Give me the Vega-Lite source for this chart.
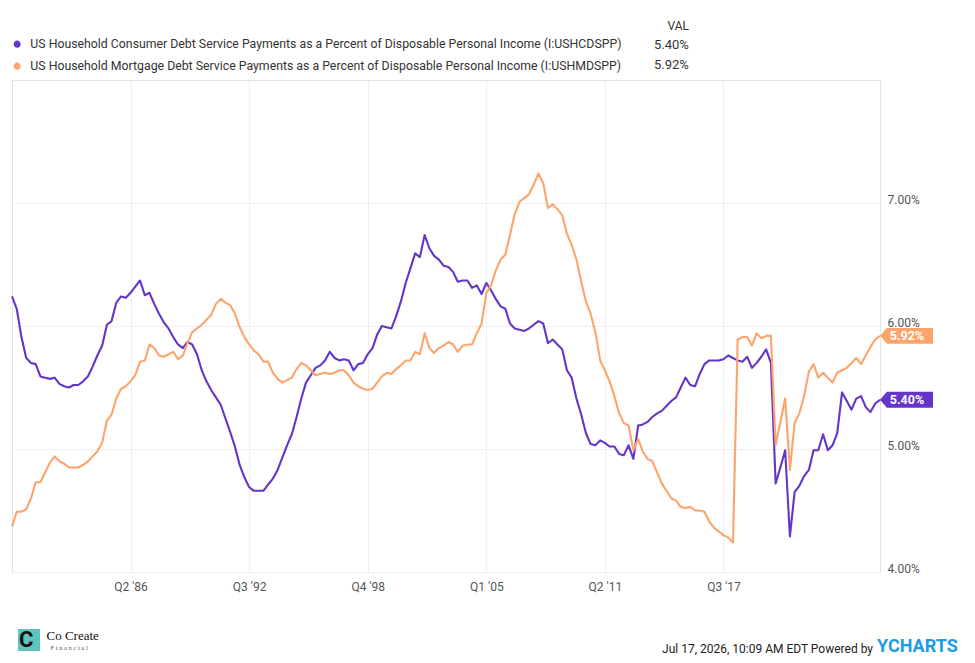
{
  "$schema": "https://vega.github.io/schema/vega-lite/v6.json",
  "width": 868,
  "height": 492,
  "autosize": {"type": "none"},
  "padding": {"left": 12, "top": 80, "right": 95, "bottom": 91},
  "background": "white",
  "config": {
    "font": "Roboto",
    "view": {"stroke": "#e3e3e3", "strokeWidth": 1}
  },
  "title": {
    "text": "Jul 17, 2026, 10:09 AM EDT Powered by",
    "orient": "bottom",
    "anchor": "end",
    "frame": "group",
    "offset": -12,
    "dx": -7,
    "fontSize": 12,
    "fontWeight": "normal",
    "color": "#222222"
  },
  "data": {
    "format": {"parse": {"d": "utc:'%Y-%m-%d'"}},
    "values": [
      {"d":"1980-01-01","c":6.24,"m":4.37},{"d":"1980-04-01","c":6.14,"m":4.49},{"d":"1980-07-01","c":5.91,"m":4.49},{"d":"1980-10-01","c":5.74,"m":4.51},
      {"d":"1981-01-01","c":5.70,"m":4.60},{"d":"1981-04-01","c":5.69,"m":4.73},{"d":"1981-07-01","c":5.59,"m":4.73},{"d":"1981-10-01","c":5.58,"m":4.81},
      {"d":"1982-01-01","c":5.57,"m":4.89},{"d":"1982-04-01","c":5.58,"m":4.94},{"d":"1982-07-01","c":5.53,"m":4.90},{"d":"1982-10-01","c":5.51,"m":4.88},
      {"d":"1983-01-01","c":5.50,"m":4.85},{"d":"1983-04-01","c":5.52,"m":4.85},{"d":"1983-07-01","c":5.52,"m":4.85},{"d":"1983-10-01","c":5.55,"m":4.87},
      {"d":"1984-01-01","c":5.59,"m":4.90},{"d":"1984-04-01","c":5.67,"m":4.94},{"d":"1984-07-01","c":5.76,"m":4.98},{"d":"1984-10-01","c":5.84,"m":5.05},
      {"d":"1985-01-01","c":6.01,"m":5.23},{"d":"1985-04-01","c":6.04,"m":5.28},{"d":"1985-07-01","c":6.19,"m":5.41},{"d":"1985-10-01","c":6.24,"m":5.49},
      {"d":"1986-01-01","c":6.23,"m":5.51},{"d":"1986-04-01","c":6.27,"m":5.55},{"d":"1986-07-01","c":6.32,"m":5.60},{"d":"1986-10-01","c":6.37,"m":5.71},
      {"d":"1987-01-01","c":6.25,"m":5.72},{"d":"1987-04-01","c":6.27,"m":5.85},{"d":"1987-07-01","c":6.18,"m":5.82},{"d":"1987-10-01","c":6.10,"m":5.76},
      {"d":"1988-01-01","c":6.03,"m":5.75},{"d":"1988-04-01","c":5.98,"m":5.77},{"d":"1988-07-01","c":5.91,"m":5.79},{"d":"1988-10-01","c":5.85,"m":5.73},
      {"d":"1989-01-01","c":5.82,"m":5.76},{"d":"1989-04-01","c":5.87,"m":5.86},{"d":"1989-07-01","c":5.85,"m":5.95},{"d":"1989-10-01","c":5.77,"m":5.98},
      {"d":"1990-01-01","c":5.64,"m":6.01},{"d":"1990-04-01","c":5.55,"m":6.05},{"d":"1990-07-01","c":5.48,"m":6.09},{"d":"1990-10-01","c":5.42,"m":6.18},
      {"d":"1991-01-01","c":5.36,"m":6.22},{"d":"1991-04-01","c":5.25,"m":6.19},{"d":"1991-07-01","c":5.14,"m":6.17},{"d":"1991-10-01","c":5.02,"m":6.10},
      {"d":"1992-01-01","c":4.87,"m":5.99},{"d":"1992-04-01","c":4.77,"m":5.91},{"d":"1992-07-01","c":4.69,"m":5.85},{"d":"1992-10-01","c":4.66,"m":5.80},
      {"d":"1993-01-01","c":4.66,"m":5.77},{"d":"1993-04-01","c":4.66,"m":5.71},{"d":"1993-07-01","c":4.71,"m":5.71},{"d":"1993-10-01","c":4.76,"m":5.62},
      {"d":"1994-01-01","c":4.83,"m":5.57},{"d":"1994-04-01","c":4.93,"m":5.54},{"d":"1994-07-01","c":5.03,"m":5.56},{"d":"1994-10-01","c":5.12,"m":5.58},
      {"d":"1995-01-01","c":5.26,"m":5.65},{"d":"1995-04-01","c":5.41,"m":5.70},{"d":"1995-07-01","c":5.54,"m":5.68},{"d":"1995-10-01","c":5.60,"m":5.64},
      {"d":"1996-01-01","c":5.66,"m":5.60},{"d":"1996-04-01","c":5.68,"m":5.61},{"d":"1996-07-01","c":5.72,"m":5.62},{"d":"1996-10-01","c":5.79,"m":5.61},
      {"d":"1997-01-01","c":5.74,"m":5.62},{"d":"1997-04-01","c":5.72,"m":5.64},{"d":"1997-07-01","c":5.73,"m":5.64},{"d":"1997-10-01","c":5.72,"m":5.60},
      {"d":"1998-01-01","c":5.64,"m":5.54},{"d":"1998-04-01","c":5.69,"m":5.51},{"d":"1998-07-01","c":5.70,"m":5.49},{"d":"1998-10-01","c":5.77,"m":5.48},
      {"d":"1999-01-01","c":5.82,"m":5.49},{"d":"1999-04-01","c":5.93,"m":5.54},{"d":"1999-07-01","c":6.00,"m":5.59},{"d":"1999-10-01","c":5.99,"m":5.62},
      {"d":"2000-01-01","c":5.98,"m":5.61},{"d":"2000-04-01","c":6.08,"m":5.65},{"d":"2000-07-01","c":6.20,"m":5.68},{"d":"2000-10-01","c":6.35,"m":5.72},
      {"d":"2001-01-01","c":6.47,"m":5.72},{"d":"2001-04-01","c":6.59,"m":5.79},{"d":"2001-07-01","c":6.56,"m":5.77},{"d":"2001-10-01","c":6.74,"m":5.94},
      {"d":"2002-01-01","c":6.63,"m":5.82},{"d":"2002-04-01","c":6.57,"m":5.78},{"d":"2002-07-01","c":6.54,"m":5.82},{"d":"2002-10-01","c":6.49,"m":5.84},
      {"d":"2003-01-01","c":6.48,"m":5.87},{"d":"2003-04-01","c":6.44,"m":5.85},{"d":"2003-07-01","c":6.36,"m":5.79},{"d":"2003-10-01","c":6.37,"m":5.84},
      {"d":"2004-01-01","c":6.37,"m":5.85},{"d":"2004-04-01","c":6.31,"m":5.85},{"d":"2004-07-01","c":6.33,"m":5.94},{"d":"2004-10-01","c":6.26,"m":6.02},
      {"d":"2005-01-01","c":6.35,"m":6.27},{"d":"2005-04-01","c":6.29,"m":6.33},{"d":"2005-07-01","c":6.22,"m":6.45},{"d":"2005-10-01","c":6.16,"m":6.54},
      {"d":"2006-01-01","c":6.14,"m":6.58},{"d":"2006-04-01","c":6.02,"m":6.74},{"d":"2006-07-01","c":5.98,"m":6.91},{"d":"2006-10-01","c":5.97,"m":7.01},
      {"d":"2007-01-01","c":5.96,"m":7.04},{"d":"2007-04-01","c":5.98,"m":7.07},{"d":"2007-07-01","c":6.01,"m":7.15},{"d":"2007-10-01","c":6.04,"m":7.24},
      {"d":"2008-01-01","c":6.02,"m":7.16},{"d":"2008-04-01","c":5.86,"m":6.96},{"d":"2008-07-01","c":5.89,"m":6.99},{"d":"2008-10-01","c":5.85,"m":6.95},
      {"d":"2009-01-01","c":5.81,"m":6.90},{"d":"2009-04-01","c":5.64,"m":6.75},{"d":"2009-07-01","c":5.58,"m":6.66},{"d":"2009-10-01","c":5.41,"m":6.54},
      {"d":"2010-01-01","c":5.28,"m":6.36},{"d":"2010-04-01","c":5.13,"m":6.20},{"d":"2010-07-01","c":5.04,"m":6.10},{"d":"2010-10-01","c":5.03,"m":5.95},
      {"d":"2011-01-01","c":5.07,"m":5.72},{"d":"2011-04-01","c":5.05,"m":5.64},{"d":"2011-07-01","c":5.02,"m":5.55},{"d":"2011-10-01","c":5.02,"m":5.43},
      {"d":"2012-01-01","c":4.96,"m":5.29},{"d":"2012-04-01","c":4.95,"m":5.21},{"d":"2012-07-01","c":5.03,"m":5.19},{"d":"2012-10-01","c":4.92,"m":4.99},
      {"d":"2013-01-01","c":5.19,"m":5.08},{"d":"2013-04-01","c":5.20,"m":4.98},{"d":"2013-07-01","c":5.22,"m":4.92},{"d":"2013-10-01","c":5.26,"m":4.90},
      {"d":"2014-01-01","c":5.29,"m":4.81},{"d":"2014-04-01","c":5.31,"m":4.72},{"d":"2014-07-01","c":5.35,"m":4.66},{"d":"2014-10-01","c":5.39,"m":4.60},
      {"d":"2015-01-01","c":5.42,"m":4.58},{"d":"2015-04-01","c":5.50,"m":4.53},{"d":"2015-07-01","c":5.58,"m":4.52},{"d":"2015-10-01","c":5.52,"m":4.53},
      {"d":"2016-01-01","c":5.51,"m":4.50},{"d":"2016-04-01","c":5.61,"m":4.50},{"d":"2016-07-01","c":5.69,"m":4.49},{"d":"2016-10-01","c":5.72,"m":4.41},
      {"d":"2017-01-01","c":5.72,"m":4.36},{"d":"2017-04-01","c":5.72,"m":4.33},{"d":"2017-07-01","c":5.73,"m":4.30},{"d":"2017-10-01","c":5.76,"m":4.28},
      {"d":"2018-01-01","c":5.74,"m":4.24},{"d":"2018-04-01","c":5.72,"m":5.89},{"d":"2018-07-01","c":5.71,"m":5.91},{"d":"2018-10-01","c":5.75,"m":5.91},
      {"d":"2019-01-01","c":5.66,"m":5.84},{"d":"2019-04-01","c":5.70,"m":5.94},{"d":"2019-07-01","c":5.75,"m":5.90},{"d":"2019-10-01","c":5.81,"m":5.92},
      {"d":"2020-01-01","c":5.70,"m":5.92},{"d":"2020-04-01","c":4.72,"m":5.03},{"d":"2020-07-01","c":4.85,"m":5.22},{"d":"2020-10-01","c":4.99,"m":5.41},
      {"d":"2021-01-01","c":4.29,"m":4.83},{"d":"2021-04-01","c":4.65,"m":5.21},{"d":"2021-07-01","c":4.70,"m":5.29},{"d":"2021-10-01","c":4.78,"m":5.43},
      {"d":"2022-01-01","c":4.83,"m":5.63},{"d":"2022-04-01","c":4.99,"m":5.69},{"d":"2022-07-01","c":4.99,"m":5.58},{"d":"2022-10-01","c":5.12,"m":5.62},
      {"d":"2023-01-01","c":4.99,"m":5.58},{"d":"2023-04-01","c":5.03,"m":5.54},{"d":"2023-07-01","c":5.13,"m":5.62},{"d":"2023-10-01","c":5.46,"m":5.64},
      {"d":"2024-01-01","c":5.39,"m":5.66},{"d":"2024-04-01","c":5.32,"m":5.70},{"d":"2024-07-01","c":5.41,"m":5.74},{"d":"2024-10-01","c":5.43,"m":5.69},
      {"d":"2025-01-01","c":5.34,"m":5.76},{"d":"2025-04-01","c":5.30,"m":5.83},{"d":"2025-07-01","c":5.37,"m":5.89},{"d":"2025-10-01","c":5.40,"m":5.92}
    ]
  },
  "transform": [{"fold": ["c", "m"], "as": ["s", "v"]}],
  "encoding": {
    "x": {
      "field": "d",
      "type": "temporal",
      "scale": {
        "type": "utc",
        "nice": false,
        "domain": [
          {"year": 1980, "month": 1, "date": 1, "utc": true},
          {"year": 2025, "month": 10, "date": 1, "utc": true}
        ]
      },
      "axis": {
        "values": [
          {"year": 1986, "month": 4, "date": 1, "utc": true},
          {"year": 1992, "month": 7, "date": 1, "utc": true},
          {"year": 1998, "month": 10, "date": 1, "utc": true},
          {"year": 2005, "month": 1, "date": 1, "utc": true},
          {"year": 2011, "month": 4, "date": 1, "utc": true},
          {"year": 2017, "month": 7, "date": 1, "utc": true}
        ],
        "labelExpr": "'Q' + utcquarter(datum.value) + \" '\" + utcFormat(datum.value, '%y')",
        "domain": false,
        "ticks": false,
        "grid": true,
        "gridColor": "#efefef",
        "labelColor": "#555555",
        "labelFontSize": 12,
        "labelPadding": 9,
        "title": "Co Create",
        "titleFont": "Liberation Serif",
        "titleFontSize": 13,
        "titleFontWeight": "normal",
        "titleColor": "#111111",
        "titleAnchor": "start",
        "titleAlign": "left",
        "titleBaseline": "top",
        "titleX": 34,
        "titleY": 57
      }
    },
    "y": {
      "field": "v",
      "type": "quantitative",
      "scale": {"domain": [4, 8], "nice": false, "zero": false},
      "axis": {
        "orient": "right",
        "values": [4, 5, 6, 7],
        "labelExpr": "format(datum.value, '.2f') + '%'",
        "labelBaseline": "alphabetic",
        "labelAlign": "left",
        "labelPadding": 7,
        "labelColor": "#555555",
        "labelFontSize": 12,
        "domain": false,
        "ticks": false,
        "grid": true,
        "gridColor": "#efefef",
        "title": "F i n a n c i a l",
        "titleFont": "Liberation Serif",
        "titleFontSize": 6.5,
        "titleFontWeight": "normal",
        "titleColor": "#555555",
        "titleAngle": 0,
        "titleAlign": "left",
        "titleBaseline": "top",
        "titleX": -830,
        "titleY": 564
      }
    },
    "color": {
      "field": "s",
      "type": "nominal",
      "scale": {"domain": ["c", "m"], "range": ["#6335c8", "#fda46c"]},
      "legend": {
        "orient": "none",
        "legendX": -1,
        "legendY": -42,
        "title": null,
        "direction": "vertical",
        "labelExpr": "datum.value == 'c' ? 'US Household Consumer Debt Service Payments as a Percent of Disposable Personal Income (I:USHCDSPP)' : 'US Household Mortgage Debt Service Payments as a Percent of Disposable Personal Income (I:USHMDSPP)'",
        "labelFontSize": 12.3,
        "labelColor": "#333333",
        "labelLimit": 1000,
        "labelOffset": 7,
        "rowPadding": 3,
        "symbolType": "circle",
        "symbolSize": 12,
        "symbolStrokeWidth": 3.6
      }
    }
  },
  "layer": [
    {
      "mark": {"type": "line", "strokeWidth": 2.1, "strokeJoin": "round"},
      "encoding": {
        "opacity": {
          "field": "s",
          "type": "nominal",
          "scale": {"range": [1, 1]},
          "legend": {
            "orient": "none",
            "legendX": 6,
            "legendY": 549,
            "title": null,
            "values": ["c"],
            "labelExpr": "'C'",
            "labelFontSize": 22,
            "labelFontWeight": "bold",
            "labelColor": "#111111",
            "labelOffset": -21,
            "symbolType": "square",
            "symbolSize": 484,
            "symbolFillColor": "#5ec4bf",
            "symbolStrokeWidth": 0
          }
        }
      }
    },
    {
      "transform": [{"filter": "datum.d > datetime(2025, 6, 1)"}],
      "layer": [
        {
          "mark": {
            "type": "point",
            "filled": true,
            "opacity": 1,
            "size": 11236,
            "shape": "M0,0L0.13,-0.15L1,-0.15L1,0.15L0.13,0.15Z"
          },
          "encoding": {
            "strokeDash": {
              "field": "s",
              "type": "nominal",
              "legend": {
                "orient": "none",
                "legendX": 629,
                "legendY": -59,
                "title": "VAL",
                "titleFontSize": 12,
                "titleFontWeight": "normal",
                "titleColor": "#333333",
                "titleAnchor": "end",
                "titlePadding": 5,
                "labelExpr": "datum.value == 'c' ? '5.40%' : '5.92%'",
                "labelFontSize": 13,
                "labelColor": "#333333",
                "labelOffset": 0,
                "rowPadding": 6,
                "symbolSize": 0,
                "symbolStrokeWidth": 0,
                "symbolOpacity": 0
              }
            }
          }
        },
        {
          "mark": {
            "type": "text",
            "dx": 27,
            "fontWeight": "bold",
            "text": {"expr": "format(datum.v, '.2f') + '%'"}
          },
          "encoding": {
            "color": {"value": "white"},
            "size": {
              "field": "v",
              "type": "quantitative",
              "scale": {"range": [12.5, 12.5]},
              "legend": {
                "orient": "none",
                "legendX": 847,
                "legendY": 558,
                "title": null,
                "values": [5.4],
                "labelExpr": "'YCHARTS'",
                "labelFontSize": 18,
                "labelFontWeight": "bold",
                "labelColor": "#1e9be6",
                "labelOffset": 0,
                "symbolSize": 0,
                "symbolStrokeWidth": 0,
                "symbolOpacity": 0
              }
            }
          }
        }
      ]
    }
  ]
}
